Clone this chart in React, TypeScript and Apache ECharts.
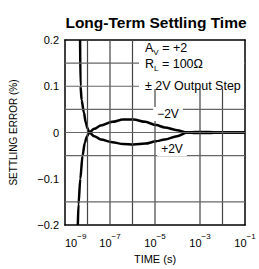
import React, { useEffect, useRef } from "react";
import * as echarts from "echarts";

// log10(time in s) vs settling error (%)
const plus2V: [number, number][] = [
  [-8.33, 0.2], [-8.31, 0.1], [-8.26, 0.07], [-8.16, 0.043], [-8.08, 0.022],
  [-8.0, 0.009], [-7.92, 0], [-7.7, -0.008], [-7.41, -0.015], [-6.9, -0.021],
  [-6.42, -0.025], [-5.95, -0.026], [-5.43, -0.024], [-4.95, -0.019],
  [-4.57, -0.015], [-4.02, -0.008], [-3.58, 0], [-3.2, -0.001], [-2.6, -0.001],
  [-2.2, 0], [-1, 0],
];
const minus2V: [number, number][] = [
  [-8.43, -0.2], [-8.4, -0.155], [-8.32, -0.1], [-8.22, -0.05], [-8.12, -0.022],
  [-8.03, -0.009], [-7.92, 0], [-7.7, 0.008], [-7.41, 0.015], [-6.9, 0.023],
  [-6.42, 0.028], [-5.95, 0.028], [-5.43, 0.023], [-4.95, 0.016],
  [-4.57, 0.011], [-4.02, 0.005], [-3.58, 0], [-3.2, 0.001], [-2.6, 0.001],
  [-2.2, 0], [-1, 0],
];
// axis range (log10 seconds and %), and the values that carry a grid line
const xRange = [-9, -1];
const yRange = [-0.2, 0.2];
const xGrid = [-8, -7, -6, -5, -3, -2];
const yGrid = [0.15, 0.1, 0.05, 0, -0.05, -0.15];
const title = "Long-Term Settling Time";
const xName = "TIME (s)";
const yName = "SETTLING ERROR (%)";

const FONT = "'Liberation Sans', Arial, sans-serif";
const BORDER = { show: true, onZero: false, lineStyle: { color: "#000", width: 1.5 } };

export default function App() {
  const ref = useRef<HTMLDivElement>(null);
  useEffect(() => {
    if (!ref.current) return;
    const chart = echarts.init(ref.current, undefined, { renderer: "svg" });
    const frameX = {
      type: "value", position: "top", min: xRange[0], max: xRange[1], interval: 1,
      axisLine: BORDER, axisTick: { show: false }, axisLabel: { show: false }, splitLine: { show: false },
    };
    const frameY = {
      type: "value", position: "right", min: yRange[0], max: yRange[1], interval: 0.05,
      axisLine: BORDER, axisTick: { show: false }, axisLabel: { show: false }, splitLine: { show: false },
    };
    const gridSeries = [
      ...xGrid.map((v) => ({
        type: "line",
        z: 6,
        silent: true,
        showSymbol: false,
        data: [[v, yRange[0]], [v, yRange[1]]],
        lineStyle: { color: "#444", width: 1.2 },
      })),
      ...yGrid.map((v) => ({
        type: "line",
        z: 6,
        silent: true,
        showSymbol: false,
        data: [[xRange[0], v], [xRange[1], v]],
        lineStyle: { color: "#666", width: 1.2 },
      })),
    ];
    chart.setOption({
      animation: false,
      title: {
        text: title,
        left: 151,
        textAlign: "center",
        top: 9,
        textStyle: { fontFamily: FONT, fontSize: 15.5, fontWeight: "bold", color: "#000" },
      },
      grid: { left: 56, right: 14, top: 40, bottom: 41, show: false },
      xAxis: [
        {
          type: "value",
          position: "bottom",
          min: xRange[0], max: xRange[1], interval: 1,
          name: xName, nameLocation: "middle", nameGap: 28,
          nameTextStyle: { fontFamily: FONT, fontSize: 11, color: "#000" },
          axisLine: BORDER, axisTick: { show: false }, splitLine: { show: false },
          axisLabel: {
            margin: 7,
            showMinLabel: true, showMaxLabel: true,
            alignMinLabel: "left",
            formatter: (v: number) =>
              Math.round(v) % 2 === 0 ? "" : `{b|10}{s|\u2212${-Math.round(v)}}`,
            rich: {
              b: { fontFamily: FONT, fontSize: 11, color: "#000", lineHeight: 16, verticalAlign: "bottom" },
              s: { fontFamily: FONT, fontSize: 8, color: "#000", lineHeight: 16, verticalAlign: "top" },
            },
          },
        },
        frameX,
      ],
      yAxis: [
        {
          type: "value",
          position: "left",
          min: yRange[0], max: yRange[1], interval: 0.05,
          name: yName, nameLocation: "middle", nameGap: 47, nameRotate: 90,
          nameTextStyle: { fontFamily: FONT, fontSize: 10, color: "#000" },
          axisLine: BORDER, axisTick: { show: false }, splitLine: { show: false },
          axisLabel: {
            margin: 6,
            showMinLabel: true, showMaxLabel: true,
            fontFamily: FONT, fontSize: 11, color: "#000",
            formatter: (v: number) => {
              const r = Math.round(v * 100);
              if (r % 10 !== 0) return "";
              if (r === 0) return "0";
              return (r < 0 ? "\u2212" : "") + (Math.abs(r) / 100).toFixed(1);
            },
          },
        },
        frameY,
      ],
      series: [
        {
          name: "+2V",
          type: "line",
          data: plus2V,
          z: 5,
          showSymbol: false,
          smooth: 0.3,
          smoothMonotone: "x",
          lineStyle: { color: "#000", width: 2.5 },
        },
        {
          name: "-2V",
          type: "line",
          data: minus2V,
          z: 5,
          showSymbol: false,
          smooth: 0.3,
          smoothMonotone: "x",
          lineStyle: { color: "#000", width: 2.5 },
        },
        ...gridSeries,
      ],
      graphic: [
        { type: "rect", z: 10, x: 139, y: 41, shape: { x: 0, y: 0, width: 105, height: 48 }, style: { fill: "#fff" } },
        {
          type: "text", z: 11, x: 145, y: 49,
          style: {
            text: "{m|A}{s|V}{m| = +2}",
            verticalAlign: "middle",
            rich: {
              m: { fontFamily: FONT, fontSize: 12.5, fill: "#000", lineHeight: 15, verticalAlign: "top" },
              s: { fontFamily: FONT, fontSize: 8, fill: "#000", lineHeight: 15, verticalAlign: "bottom" },
            },
          },
        },
        {
          type: "text", z: 11, x: 145, y: 65,
          style: {
            text: "{m|R}{s|L}{m| = 100\u03a9}",
            verticalAlign: "middle",
            rich: {
              m: { fontFamily: FONT, fontSize: 12.5, fill: "#000", lineHeight: 15, verticalAlign: "top" },
              s: { fontFamily: FONT, fontSize: 8, fill: "#000", lineHeight: 15, verticalAlign: "bottom" },
            },
          },
        },
        {
          type: "text", z: 11, x: 145, y: 86,
          style: {
            text: "\u00b1 2V Output Step",
            verticalAlign: "middle",
            fontFamily: FONT, fontSize: 12.5, fill: "#000",
          },
        },
        {
          type: "text", z: 11, x: 168, y: 114,
          style: {
            text: "\u22122V", align: "center", verticalAlign: "middle",
            fontFamily: FONT, fontSize: 12, fill: "#000",
            backgroundColor: "#fff", padding: [1, 4],
          },
        },
        {
          type: "text", z: 11, x: 172, y: 149,
          style: {
            text: "+2V", align: "center", verticalAlign: "middle",
            fontFamily: FONT, fontSize: 12, fill: "#000",
            backgroundColor: "#fff", padding: [1, 4],
          },
        },
      ],
    });
    return () => chart.dispose();
  }, []);
  return <div ref={ref} style={{ width: 259, height: 269, position: "absolute", left: 0, top: 0, background: "#fff" }} />;
}
